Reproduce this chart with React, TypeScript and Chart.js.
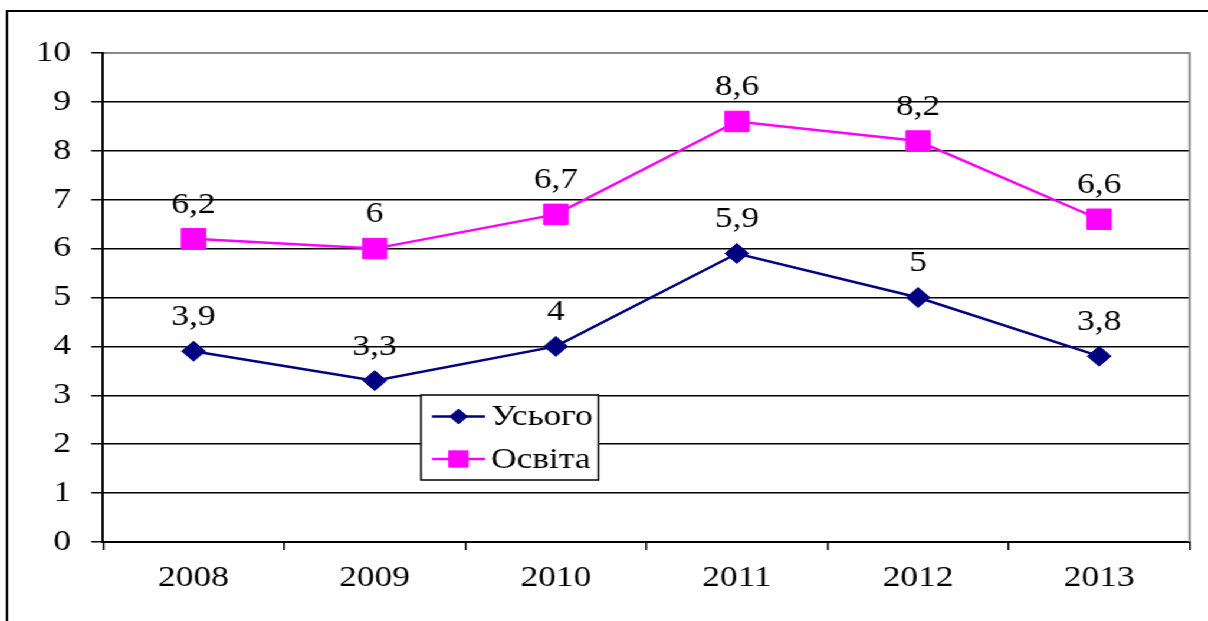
import React, { useEffect, useRef } from 'react';
import { Chart, registerables } from 'chart.js';

Chart.register(...registerables);

const years = ['2008', '2009', '2010', '2011', '2012', '2013'];
const totalValues = [3.9, 3.3, 4, 5.9, 5, 3.8];
const educationValues = [6.2, 6, 6.7, 8.6, 8.2, 6.6];
const seriesNames = ['Усього', 'Освіта'];
const seriesColors = ['#000080', '#FF00FF'];
const yMin = 0;
const yMax = 10;

const CANVAS_W = 1024;
const CANVAS_H = 621;
const SX = 1208 / CANVAS_W;
const FONT = '"Liberation Serif", "Times New Roman", serif';

const fmt = (v: number) => String(v).replace('.', ',');

const borderPlugin = {
  id: 'outerBorder',
  beforeDraw(chart: any) {
    const ctx = chart.ctx;
    ctx.save();
    ctx.fillStyle = '#fff';
    ctx.fillRect(0, 0, chart.width, chart.height);
    ctx.strokeStyle = '#000';
    ctx.lineWidth = 2;
    ctx.beginPath();
    ctx.moveTo(7 / SX, chart.height + 5);
    ctx.lineTo(7 / SX, 11);
    ctx.lineTo(chart.width + 5, 11);
    ctx.stroke();
    ctx.restore();
  },
  beforeDatasetsDraw(chart: any) {
    const { ctx, chartArea } = chart;
    ctx.save();
    ctx.strokeStyle = '#888';
    ctx.lineWidth = 2;
    ctx.beginPath();
    ctx.moveTo(chartArea.left + 1, chartArea.top);
    ctx.lineTo(chartArea.right, chartArea.top);
    ctx.lineTo(chartArea.right, chartArea.bottom);
    ctx.stroke();
    ctx.restore();
  },
};

const dataLabelPlugin = {
  id: 'dataLabels',
  afterDatasetsDraw(chart: any) {
    const ctx = chart.ctx;
    ctx.save();
    ctx.font = `30px ${FONT}`;
    ctx.fillStyle = '#000';
    ctx.textAlign = 'center';
    ctx.textBaseline = 'middle';
    chart.data.datasets.forEach((ds: any, i: number) => {
      const meta = chart.getDatasetMeta(i);
      meta.data.forEach((pt: any, j: number) => {
        ctx.fillText(fmt(ds.data[j]), pt.x, pt.y - 34);
      });
    });
    ctx.restore();
  },
};

function drawMarker(ctx: CanvasRenderingContext2D, style: string, x: number, y: number, r: number, color: string) {
  ctx.beginPath();
  if (style === 'rectRot') {
    ctx.moveTo(x - r, y);
    ctx.lineTo(x, y - r);
    ctx.lineTo(x + r, y);
    ctx.lineTo(x, y + r);
    ctx.closePath();
  } else {
    const s = r * Math.SQRT1_2;
    ctx.rect(x - s, y - s, 2 * s, 2 * s);
  }
  ctx.fillStyle = color;
  ctx.strokeStyle = color;
  ctx.lineWidth = 1;
  ctx.fill();
  ctx.stroke();
}

const legendPlugin = {
  id: 'insideLegend',
  afterDraw(chart: any) {
    const ctx = chart.ctx;
    const left = 421 / SX;
    const right = 598.5 / SX;
    const top = 395;
    const bottom = 480;
    ctx.save();
    ctx.fillStyle = '#fff';
    ctx.fillRect(left, top, right - left, bottom - top);
    ctx.strokeStyle = '#000';
    ctx.lineWidth = 1.5;
    ctx.strokeRect(left, top, right - left, bottom - top);
    const rows = [416.5, 459];
    const markerR = [7.5, 11.5];
    chart.data.datasets.forEach((ds: any, i: number) => {
      const y = rows[i];
      const x0 = 432 / SX;
      const x1 = 485 / SX;
      ctx.strokeStyle = ds.borderColor;
      ctx.lineWidth = 2.5;
      ctx.beginPath();
      ctx.moveTo(x0, y);
      ctx.lineTo(x1, y);
      ctx.stroke();
      drawMarker(ctx, ds.pointStyle, (x0 + x1) / 2, y, markerR[i], ds.borderColor);
      ctx.fillStyle = '#000';
      ctx.font = `30px ${FONT}`;
      ctx.textAlign = 'left';
      ctx.textBaseline = 'middle';
      ctx.fillText(ds.label, 491 / SX, y + 1);
    });
    ctx.restore();
  },
};

export default function App() {
  const canvasRef = useRef<HTMLCanvasElement | null>(null);

  useEffect(() => {
    if (!canvasRef.current) return;
    const chart = new Chart(canvasRef.current, {
      type: 'line',
      data: {
        labels: years,
        datasets: [
          {
            label: seriesNames[0],
            data: totalValues,
            borderColor: seriesColors[0],
            backgroundColor: seriesColors[0],
            borderWidth: 2.5,
            pointStyle: 'rectRot',
            pointRadius: 10,
            pointBorderWidth: 1,
            tension: 0,
          },
          {
            label: seriesNames[1],
            data: educationValues,
            borderColor: seriesColors[1],
            backgroundColor: seriesColors[1],
            borderWidth: 2.5,
            pointStyle: 'rect',
            pointRadius: 14.5,
            pointBorderWidth: 1,
            tension: 0,
          },
        ],
      },
      options: {
        responsive: false,
        animation: false,
        layout: { padding: { left: 0, right: CANVAS_W - 1191 / SX, top: 53, bottom: 19 } },
        plugins: {
          legend: { display: false },
          tooltip: { enabled: false },
        },
        scales: {
          x: {
            type: 'category',
            offset: true,
            afterFit: (s: any) => { s.height = 60; },
            grid: {
              offset: true,
              drawOnChartArea: false,
              drawTicks: true,
              tickLength: 8,
              color: '#000',
              lineWidth: 1.5,
            },
            border: { display: true, color: '#000', width: 2 },
            ticks: {
              color: '#000',
              font: { family: FONT, size: 30 },
              padding: 10,
              maxRotation: 0,
            },
          },
          y: {
            min: yMin,
            max: yMax,
            afterFit: (s: any) => { s.width = 103 / SX; },
            grid: {
              color: '#000',
              lineWidth: 1.5,
              tickLength: 10,
            },
            border: { display: true, color: '#000', width: 2 },
            ticks: {
              stepSize: 1,
              color: '#000',
              font: { family: FONT, size: 30 },
              padding: 17,
            },
          },
        },
      },
      plugins: [borderPlugin, dataLabelPlugin, legendPlugin],
    });
    return () => chart.destroy();
  }, []);

  return (
    <div
      style={{
        position: 'fixed',
        left: 0,
        top: 0,
        width: CANVAS_W,
        height: CANVAS_H,
        transform: `scaleX(${SX})`,
        transformOrigin: 'left top',
        background: '#fff',
      }}
    >
      <canvas ref={canvasRef} width={CANVAS_W} height={CANVAS_H} style={{ display: 'block' }} />
    </div>
  );
}
